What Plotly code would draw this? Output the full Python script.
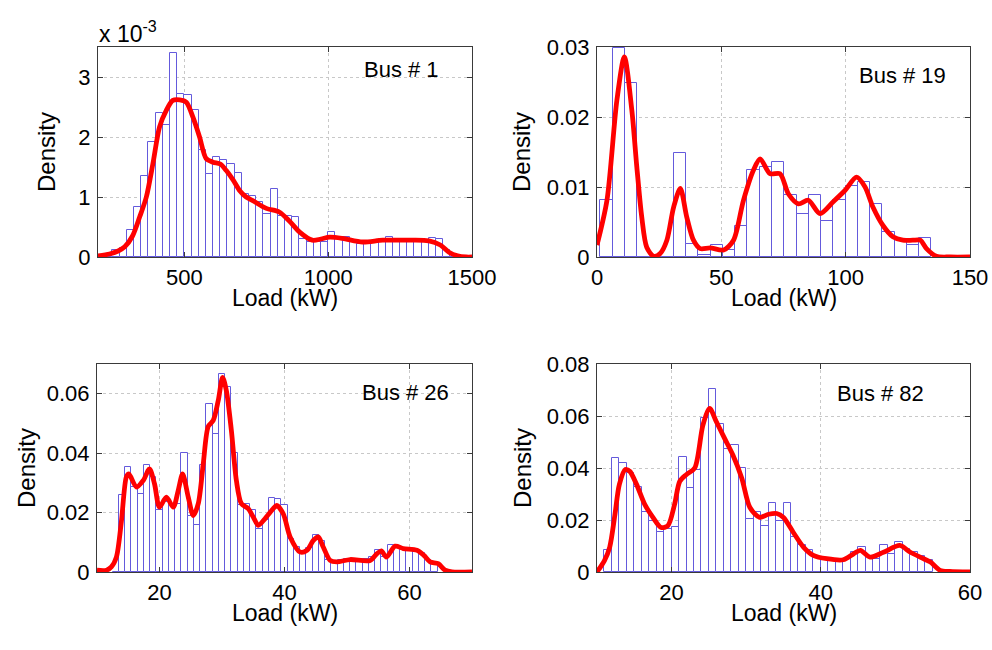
import plotly.graph_objects as go

# ---------------- data ----------------
# Bus 1: histogram bins (kW) and density, plus smoothed density estimate
bus1_bin_start = 200
bus1_bin_width = 25
bus1_density = [0.00, 0.03, 0.12, 0.15, 0.45, 0.83, 1.35, 1.92, 2.40, 2.20,
                3.40, 2.72, 2.70, 2.45, 1.78, 1.38, 1.67, 1.62, 1.55, 1.40,
                1.05, 1.02, 0.92, 0.72, 1.14, 0.69, 0.69, 0.67, 0.30, 0.25,
                0.25, 0.25, 0.42, 0.33, 0.33, 0.25, 0.22, 0.22, 0.25, 0.30,
                0.33, 0.28, 0.30, 0.28, 0.30, 0.25, 0.32, 0.30, 0.12, 0.0,
                0.0, 0.0]
bus1_density = [v * 1e-3 for v in bus1_density]
bus1_kde_x = [200, 240, 270, 293, 320, 345, 368, 391, 414, 437, 460, 484, 507,
              530, 553, 576, 600, 625, 646, 670, 692, 715, 738, 785, 830, 865,
              900, 945, 975, 1005, 1050, 1120, 1190, 1280, 1350, 1390, 1420,
              1450, 1480, 1500]
bus1_kde_y = [0.02, 0.05, 0.10, 0.17, 0.35, 0.67, 1.00, 1.56, 2.17, 2.44, 2.61,
              2.62, 2.58, 2.33, 2.00, 1.64, 1.58, 1.55, 1.44, 1.28, 1.11, 1.00,
              0.94, 0.81, 0.75, 0.60, 0.42, 0.28, 0.30, 0.33, 0.31, 0.25, 0.28,
              0.28, 0.27, 0.20, 0.08, 0.02, 0.0, 0.0]
bus1_kde_y = [v * 1e-3 for v in bus1_kde_y]

# Bus 19
bus19_bin_start = 1.35
bus19_bin_width = 4.93
bus19_density = [0.0081, 0.0299, 0.0248, 0.0, 0.0, 0.0, 0.0148, 0.0019, 0.0003,
                 0.0017, 0.0010, 0.0045, 0.0124, 0.0129, 0.0136, 0.0089, 0.0062,
                 0.0089, 0.0052, 0.0081, 0.0102, 0.0107, 0.0076, 0.0036, 0.0024,
                 0.0017, 0.0027]
bus19_kde_x = [0, 4.0, 8.0, 11.0, 14.0, 16.0, 18.0, 20.0, 22.8, 25.4, 28.1, 30.8,
               33.5, 36.1, 38.8, 41.5, 45.5, 50.9, 54.9, 58.9, 62.9, 65.6, 69.6,
               73.6, 77.0, 81.0, 85.0, 89.7, 95.0, 99.7, 104.4, 107.8, 111.0,
               115.0, 119.0, 123.0, 127.0, 130.0, 132.5, 136.5, 142.0, 150.0]
bus19_kde_y = [0.0017, 0.0081, 0.0224, 0.0286, 0.0210, 0.0129, 0.0057, 0.0014,
               0.0001, 0.0005, 0.0024, 0.0071, 0.0098, 0.0057, 0.0024, 0.0012,
               0.0013, 0.0010, 0.0024, 0.0081, 0.0124, 0.0140, 0.0119, 0.0119,
               0.0090, 0.0076, 0.0081, 0.0062, 0.0079, 0.0095, 0.0114, 0.0100,
               0.0071, 0.0045, 0.0029, 0.0024, 0.0024, 0.0024, 0.0012, 0.0001,
               0.0, 0.0]

# Bus 26
bus26_bin_start = 12.5
bus26_bin_width = 1.0
bus26_density = [0.0, 0.0258, 0.0353, 0.0286, 0.0263, 0.0360, 0.0320, 0.0210,
                 0.0235, 0.0225, 0.0230, 0.0400, 0.0190, 0.0157, 0.0360, 0.0566,
                 0.0465, 0.0667, 0.0622, 0.0400, 0.0224, 0.0230, 0.0207, 0.0146,
                 0.0174, 0.0250, 0.0246, 0.0224, 0.0110, 0.0085, 0.0060, 0.0080,
                 0.0123, 0.0105, 0.0040, 0.0035, 0.0040, 0.0045, 0.0045, 0.0045,
                 0.0045, 0.0050, 0.0073, 0.0050, 0.0090, 0.0085, 0.0078, 0.0078,
                 0.0075, 0.0065, 0.0040, 0.0035]
bus26_kde_x = [10.0, 11.5, 12.3, 13.1, 13.9, 14.7, 15.1, 16.3, 17.4, 18.4, 19.2,
               20.0, 21.1, 22.2, 23.0, 23.7, 24.6, 25.4, 26.2, 27.0, 27.8, 28.6,
               29.4, 30.1, 30.7, 31.5, 32.3, 33.1, 34.2, 35.0, 35.8, 36.9, 38.2,
               38.75, 39.8, 40.9, 42.5, 43.6, 44.6, 45.4, 46.2, 47.3, 48.4, 50.5,
               53.7, 54.8, 55.5, 56.3, 57.7, 59.0, 61.2, 62.3, 63.3, 64.6, 65.7,
               66.8, 70.0]
bus26_kde_y = [0.0006, 0.0006, 0.0017, 0.0050, 0.0170, 0.0320, 0.0330, 0.0286,
               0.0308, 0.0347, 0.0297, 0.0218, 0.0252, 0.0218, 0.0275, 0.0330,
               0.0252, 0.0190, 0.0230, 0.0364, 0.0490, 0.0510, 0.0577, 0.0655,
               0.0610, 0.0476, 0.0308, 0.0230, 0.0213, 0.0185, 0.0157, 0.0180,
               0.0213, 0.0224, 0.0196, 0.0118, 0.0067, 0.0073, 0.0106, 0.0118,
               0.0084, 0.0039, 0.0034, 0.0042, 0.0039, 0.0062, 0.0071, 0.0050,
               0.0087, 0.0079, 0.0073, 0.0056, 0.0034, 0.0028, 0.0006, 0.0, 0.0]

# Bus 82
bus82_bin_start = 11.0
bus82_bin_width = 1.0
bus82_density = [0.0083, 0.0440, 0.0420, 0.0380, 0.0328, 0.0229, 0.0197, 0.0155,
                 0.0165, 0.0175, 0.0444, 0.0324, 0.0394, 0.0593, 0.0702, 0.0571,
                 0.0474, 0.0489, 0.0400, 0.0203, 0.0229, 0.0178, 0.0267, 0.0198,
                 0.0264, 0.0133, 0.0102, 0.0083, 0.0055, 0.0050, 0.0050, 0.0050,
                 0.0050, 0.0076, 0.0097, 0.0057, 0.0050, 0.0105, 0.0070, 0.0114,
                 0.0089, 0.0076, 0.0060, 0.0045]
bus82_kde_x = [10.0, 11.0, 11.7, 12.4, 13.0, 13.8, 14.4, 15.3, 16.4, 17.5, 18.6,
               19.5, 20.4, 21.1, 22.0, 23.1, 24.2, 25.1, 26.0, 27.1, 28.2, 29.4,
               30.5, 31.8, 33.0, 34.1, 35.0, 36.3, 37.7, 39.0, 40.8, 43.0, 44.4,
               45.3, 46.6, 48.4, 50.6, 52.0, 53.8, 54.7, 56.0, 57.3, 60.0]
bus82_kde_y = [0.0, 0.0044, 0.0095, 0.0220, 0.0337, 0.0394, 0.0387, 0.0337,
               0.0260, 0.0210, 0.0171, 0.0178, 0.0260, 0.0349, 0.0375, 0.0400,
               0.0565, 0.0629, 0.0578, 0.0514, 0.0451, 0.0362, 0.0248, 0.0210,
               0.0222, 0.0225, 0.0210, 0.0153, 0.0095, 0.0064, 0.0051, 0.0047,
               0.0070, 0.0083, 0.0057, 0.0076, 0.0102, 0.0076, 0.0051, 0.0038,
               0.0006, 0.0002, 0.0]

panel_titles = ["Bus # 1", "Bus # 19", "Bus # 26", "Bus # 82"]
x_ranges = [[200, 1500], [0, 150], [10, 70], [10, 60]]
x_ticks = [[500, 1000, 1500], [0, 50, 100, 150], [20, 40, 60], [20, 40, 60]]
y_ranges = [[0, 0.0035], [0, 0.03], [0, 0.07], [0, 0.08]]
y_ticks = [[0, 0.001, 0.002, 0.003], [0, 0.01, 0.02, 0.03],
           [0, 0.02, 0.04, 0.06], [0, 0.02, 0.04, 0.06, 0.08]]
y_ticktext = [["0", "1", "2", "3"], ["0", "0.01", "0.02", "0.03"],
              ["0", "0.02", "0.04", "0.06"], ["0", "0.02", "0.04", "0.06", "0.08"]]

# ---------------- styling ----------------
W, H = 992, 650
FONT = "Liberation Sans, Arial, sans-serif"
BAR_EDGE = "rgb(100,90,220)"
CURVE = "rgb(255,0,0)"
AXIS_COL = "#3a3a3a"
GRID_COL = "#c8c8c8"

# plot boxes in pixels: (left, right, top, bottom)
boxes = [(98, 472, 47, 257), (597, 970, 47, 257),
         (97, 472, 364, 572), (597, 970, 364, 572)]
# label anchor points in pixels
bus_label_xy = [(401, 69), (902, 76), (405, 392), (880, 393)]
density_label_x = [47, 522, 26, 522]
load_label_y = [298, 613]

series = [
    (bus1_bin_start, bus1_bin_width, bus1_density, bus1_kde_x, bus1_kde_y),
    (bus19_bin_start, bus19_bin_width, bus19_density, bus19_kde_x, bus19_kde_y),
    (bus26_bin_start, bus26_bin_width, bus26_density, bus26_kde_x, bus26_kde_y),
    (bus82_bin_start, bus82_bin_width, bus82_density, bus82_kde_x, bus82_kde_y),
]


def px(x, y):
    """Pixel position -> paper coordinates."""
    return x / W, 1 - y / H


fig = go.Figure()
layout = dict(
    width=W, height=H, margin=dict(l=0, r=0, t=0, b=0, pad=0, autoexpand=False),
    paper_bgcolor="white", plot_bgcolor="white", showlegend=False,
    font=dict(family=FONT, size=22, color="black"), bargap=0,
)

annotations = []
for i, (start, width, dens, kx, ky) in enumerate(series):
    n = "" if i == 0 else str(i + 1)
    xa, ya = "x" + n, "y" + n
    centers = [start + width * (k + 0.5) for k in range(len(dens))]
    fig.add_trace(go.Bar(
        x=centers, y=dens, width=width, xaxis=xa, yaxis=ya,
        marker=dict(color="white", line=dict(color=BAR_EDGE, width=1)),
    ))
    fig.add_trace(go.Scatter(
        x=kx, y=ky, mode="lines", xaxis=xa, yaxis=ya,
        line=dict(color=CURVE, width=4.8, shape="spline", smoothing=0.8),
    ))

    l, r, t, b = boxes[i]
    common = dict(
        showline=True, linecolor=AXIS_COL, linewidth=1.2, mirror="ticks",
        ticks="inside", ticklen=5, tickcolor=AXIS_COL, tickwidth=1,
        showgrid=True, gridcolor=GRID_COL, griddash="dot", gridwidth=1,
        zeroline=False, automargin=False,
        tickfont=dict(family=FONT, size=22, color="black"),
    )
    layout["xaxis" + n] = dict(
        common, domain=[l / W, r / W], range=x_ranges[i], anchor=ya,
        tickvals=x_ticks[i], ticklabelstandoff=0,
    )
    layout["yaxis" + n] = dict(
        common, domain=[1 - b / H, 1 - t / H], range=y_ranges[i], anchor=xa,
        tickvals=y_ticks[i], ticktext=y_ticktext[i], ticklabelstandoff=2,
    )

    bx, by = px(*bus_label_xy[i])
    annotations.append(dict(
        text=panel_titles[i], xref="paper", yref="paper", x=bx, y=by,
        xanchor="center", yanchor="middle", showarrow=False,
        font=dict(family=FONT, size=22, color="black"),
    ))
    lx, ly = px((l + r) / 2, load_label_y[i // 2])
    annotations.append(dict(
        text="Load (kW)", xref="paper", yref="paper", x=lx, y=ly,
        xanchor="center", yanchor="middle", showarrow=False,
        font=dict(family=FONT, size=23, color="black"),
    ))
    dx, dy = px(density_label_x[i], (t + b) / 2)
    annotations.append(dict(
        text="Density", xref="paper", yref="paper", textangle=-90, x=dx, y=dy,
        xanchor="center", yanchor="middle", showarrow=False,
        font=dict(family=FONT, size=24, color="black"),
    ))

# exponent label for the first panel
ex, ey = px(97, 32)
annotations.append(dict(
    text="x 10<sup>-3</sup>", xref="paper", yref="paper", x=ex, y=ey,
    xanchor="left", yanchor="middle", showarrow=False,
    font=dict(family=FONT, size=23, color="black"),
))

layout["annotations"] = annotations
fig.update_layout(**layout)
fig.write_html("out.html")
